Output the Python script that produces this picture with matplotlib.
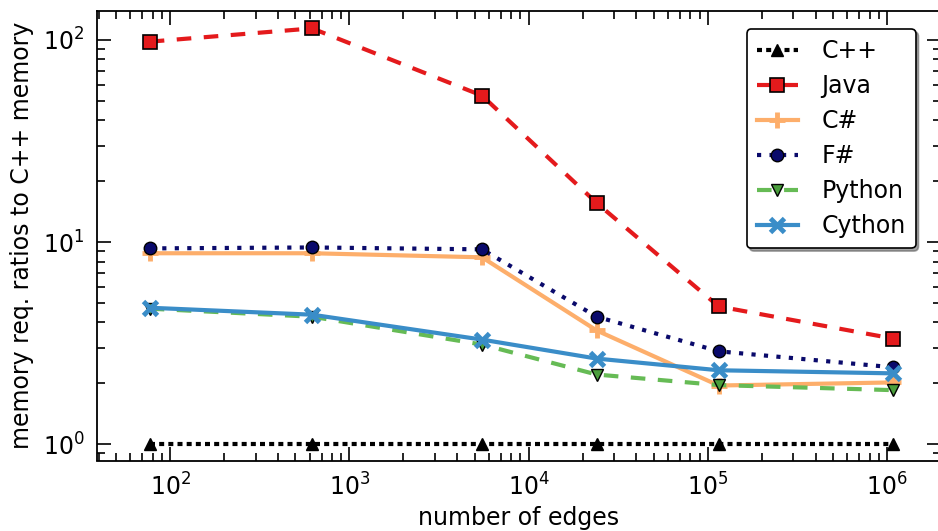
import matplotlib
matplotlib.use("Agg")
import matplotlib.pyplot as plt
from matplotlib.ticker import LogLocator, NullFormatter

edges = [77, 620, 5500, 24000, 115000, 1080000]
cpp = [1.0, 1.0, 1.0, 1.0, 1.0, 1.0]
java = [98, 114, 53, 15.6, 4.8, 3.33]
csharp = [8.8, 8.8, 8.4, 3.65, 1.95, 2.02]
fsharp = [9.3, 9.4, 9.2, 4.27, 2.88, 2.4]
python = [4.68, 4.27, 3.11, 2.21, 1.96, 1.85]
cython = [4.73, 4.37, 3.29, 2.65, 2.32, 2.24]

labels = ["C++", "Java", "C#", "F#", "Python", "Cython"]

fig = plt.figure(figsize=(9.38, 5.31), dpi=100)
ax = fig.add_axes([97/938, 1 - 460.5/531, (941-97)/938, (460.5-11)/531])

ax.plot(edges, cpp, color="black", linestyle=(0, (1.2, 1.0)), lw=3,
        marker="^", ms=9, mec="black", label=labels[0])
ax.plot(edges, java, color="#e41a1c", linestyle=(0, (3.5, 3.0)), lw=3,
        marker="s", ms=10, mec="black", mew=1.2, label=labels[1])
ax.plot(edges, csharp, color="#fdae6b", linestyle="-", lw=3,
        marker="+", ms=11, mew=3.5, label=labels[2])
ax.plot(edges, fsharp, color="#0a0a6b", linestyle=(0, (1.0, 2.0)), lw=3,
        marker="o", ms=9, mec="black", mew=1, label=labels[3])
ax.plot(edges, python, color="#66bb55", linestyle=(0, (3.5, 3.0)), lw=3,
        marker="v", ms=9, mfc="#4a9e3c", mec="black", mew=1, label=labels[4])
ax.plot(edges, cython, color="#3a8dc8", linestyle="-", lw=3,
        marker="x", ms=10, mew=3.5, label=labels[5])

ax.set_xscale("log")
ax.set_yscale("log")
ax.set_xlim(39.1, 2.0e6)
ax.set_ylim(0.83, 139)

ax.xaxis.set_major_locator(LogLocator(base=10, numticks=10))
ax.xaxis.set_minor_locator(LogLocator(base=10, subs=range(2, 10), numticks=20))
ax.yaxis.set_minor_locator(LogLocator(base=10, subs=range(2, 10), numticks=20))
ax.xaxis.set_minor_formatter(NullFormatter())
ax.yaxis.set_minor_formatter(NullFormatter())

ax.tick_params(which="both", direction="in", top=True, right=True, labelsize=17, width=1.2)
ax.tick_params(which="major", length=10, pad=9)
ax.tick_params(which="minor", length=5.5)
for s in ax.spines.values():
    s.set_linewidth(1.3)

ax.set_xlabel("number of edges", fontsize=17, labelpad=4)
ax.set_ylabel("memory req. ratios to C++ memory", fontsize=17, labelpad=6)

leg = ax.legend(loc="upper right", bbox_to_anchor=(0.970, 0.960), borderaxespad=0,
                fontsize=17, handlelength=1.75, shadow=True, fancybox=True,
                framealpha=1, edgecolor="black", labelspacing=0.47, borderpad=0.42,
                handletextpad=1.0)
leg.get_frame().set_linewidth(1.2)

fig.savefig("out.png", dpi=100)
